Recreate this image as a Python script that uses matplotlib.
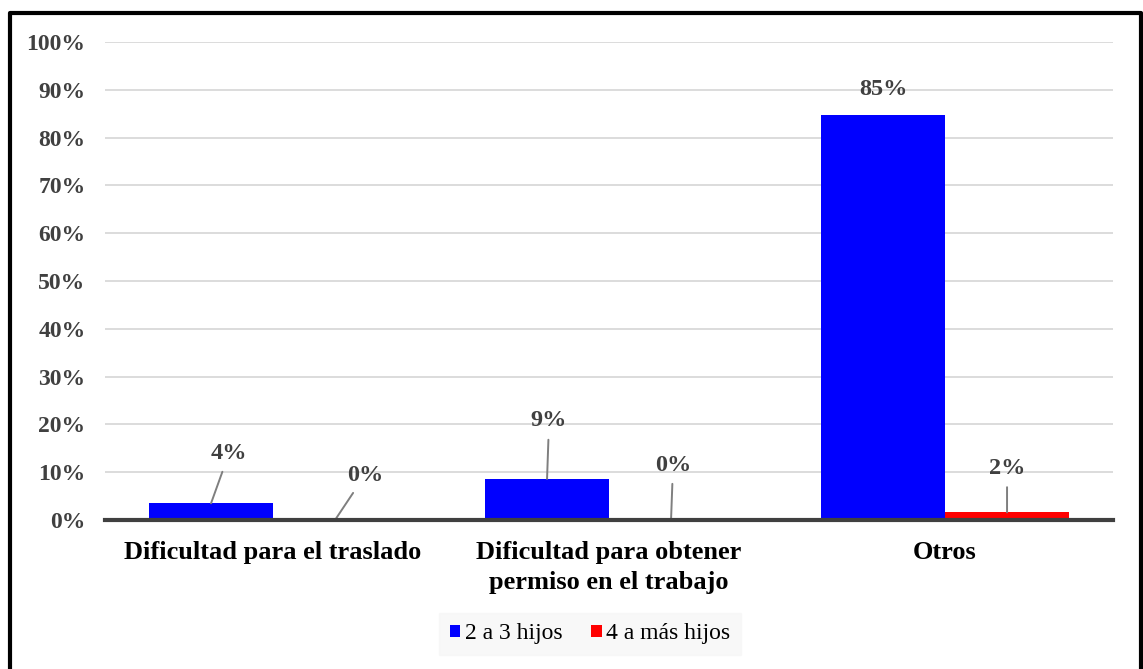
import matplotlib.pyplot as plt
import numpy as np
from matplotlib.lines import Line2D

plt.rcParams.update({
    'font.family': ['Liberation Serif', 'DejaVu Serif'],
})

categories = ['Dificultad para el traslado', 'Dificultad para obtener\npermiso en el trabajo', 'Otros']
series_names = ['2 a 3 hijos', '4 a más hijos']
vals_2a3 = [3.5, 8.6, 84.7]
vals_4mas = [0.0, 0.0, 1.6]
labels_2a3 = ['4%', '9%', '85%']
labels_4mas = ['0%', '0%', '2%']
colors = ['#0000ff', '#ff0000']

# label offsets (pixels) relative to bar top, and whether a leader line is drawn
offs_2a3 = [(18, 50, True), (2, 58, True), (0, 26, False)]
offs_4mas = [(30, 45, True), (2, 55, True), (0, 44, True)]

fig = plt.figure(figsize=(11.43, 6.69), dpi=100)
ax = fig.add_axes([0.0919, 0.2227, 0.8819, 0.7145])

x = np.arange(len(categories))
w = 0.369
b1 = ax.bar(x - w / 2, vals_2a3, w, color=colors[0], label=series_names[0], zorder=3)
b2 = ax.bar(x + w / 2, vals_4mas, w, color=colors[1], label=series_names[1], zorder=3)

for bars, labs, offs in [(b1, labels_2a3, offs_2a3), (b2, labels_4mas, offs_4mas)]:
    for rect, lab, (dx, dy, leader) in zip(bars, labs, offs):
        cx = rect.get_x() + rect.get_width() / 2
        top = rect.get_height()
        arrow = dict(arrowstyle='-', color='#7f7f7f', lw=1.4, shrinkA=4, shrinkB=0) if leader else None
        ax.annotate(lab, xy=(cx, top), xytext=(dx, dy), textcoords='offset pixels',
                    ha='center', va='center', fontsize=17.5, fontweight='bold', color='#404040',
                    arrowprops=arrow, zorder=4)

ax.set_xlim(-0.5, 2.5)
ax.set_ylim(0, 100)
ax.set_yticks(np.arange(0, 101, 10))
ax.set_yticklabels([f'{v}%' for v in range(0, 101, 10)], fontsize=17,
                   fontweight='bold', color='#404040')
ax.set_xticks(x)
ax.set_xticklabels(categories, fontsize=19, fontweight='bold', color='black',
                   linespacing=1.4)
ax.tick_params(axis='both', length=0)
ax.tick_params(axis='x', pad=15)
ax.tick_params(axis='y', pad=14)

ax.grid(axis='y', color='#d9d9d9', lw=1.3, zorder=0)
ax.set_axisbelow(True)
for s in ['top', 'right', 'left']:
    ax.spines[s].set_visible(False)
ax.spines['bottom'].set_color('#404040')
ax.spines['bottom'].set_linewidth(3)
ax.spines['bottom'].set_zorder(5)

leg = fig.legend(loc='center', bbox_to_anchor=(590 / 1143, 1 - 634 / 669), ncol=2,
                 fontsize=17, frameon=True, fancybox=False, handlelength=0.45,
                 handleheight=0.45, handletextpad=0.2, columnspacing=1.2,
                 borderpad=0.45)
leg.get_frame().set_facecolor('#f7f7f7')
leg.get_frame().set_edgecolor('#f7f7f7')

# outer border (left, top, right)
fx = [9.5 / 1143, 9.5 / 1143, 1141 / 1143, 1141 / 1143]
fy = [0.0, 1 - 12.5 / 669, 1 - 12.5 / 669, 0.0]
fig.add_artist(Line2D(fx, fy, color='black', lw=3, transform=fig.transFigure))

fig.savefig('out.png', dpi=100)
